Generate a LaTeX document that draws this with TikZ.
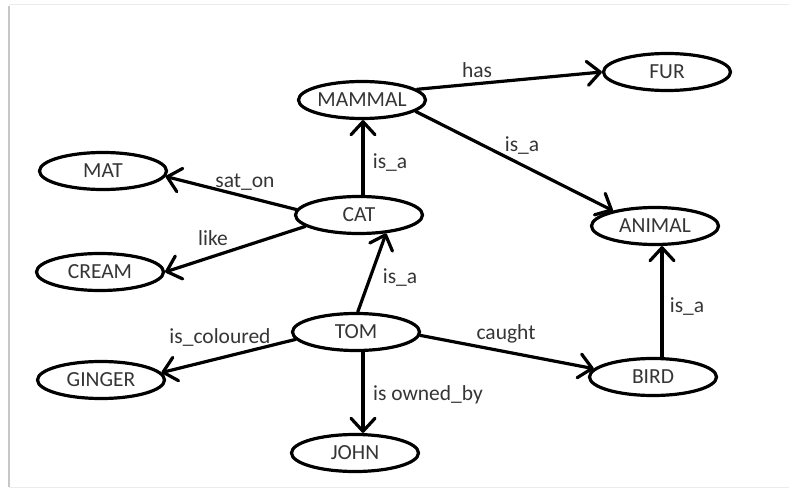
\documentclass[tikz,border=0pt]{standalone}
\usepackage{fontspec}
\setmainfont{Carlito}
\usetikzlibrary{shapes.geometric,arrows.meta}
\definecolor{txt}{HTML}{353535}
\tikzset{
  ent/.style={ellipse, draw=black, line width=3.2pt, minimum width=127pt,
    minimum height=37pt, inner sep=0pt, text=txt, font=\fontsize{21.5}{23}\selectfont},
  rel/.style={draw=black, line width=3.2pt, line cap=round,
    -{Straight Barb[length=13pt,width=24pt,line cap=round,line join=round]}},
  lbl/.style={text=txt, font=\fontsize{21.5}{23}\selectfont, inner sep=0pt},
}
\begin{document}
\begin{tikzpicture}[x=1pt,y=-1pt]
\useasboundingbox (0,0) rectangle (789,489);
% soft frame edges
\draw[line width=2pt, black!22] (9,6) -- (9,487);
\draw[line width=1pt, black!8] (9,5) -- (789,5);
\draw[line width=1pt, black!8] (9,487.5) -- (789,487.5);

% entities
\node[ent] (mammal) at (362,100) {MAMMAL};
\node[ent] (fur)    at (667,72)  {FUR};
\node[ent] (animal) at (655,226) {ANIMAL};
\node[ent] (mat)    at (103,171) {MAT};
\node[ent] (cat)    at (359,215) {CAT};
\node[ent] (cream)  at (100,272) {CREAM};
\node[ent] (tom)    at (356,332) {TOM};
\node[ent] (ginger) at (101,380) {GINGER};
\node[ent] (bird)   at (653,377) {BIRD};
\node[ent] (john)   at (355,453) {JOHN};

% relations
\draw[rel] (mammal.11) -- (fur.west);
\draw[rel] (mammal.-12) -- (animal.160);
\draw[rel] ([xshift=4pt]cat.north) -- ([xshift=1pt]mammal.south);
\draw[rel] (cat.175) -- (mat.-5);
\draw[rel] (cat.192) -- (cream.east);
\draw[rel] (tom.85) -- (cat.-34);
\draw[rel] (tom.187) -- (ginger.7);
\draw[rel] ([xshift=7pt]tom.south) -- ([xshift=8pt]john.north);
\draw[rel] (tom.-3) -- (bird.172);
\draw[rel] ([xshift=9pt]bird.north) -- ([xshift=7pt]animal.south);

% relation labels
\node[lbl] (l1)  at (477,70)  {has};
\node[lbl] (l2)  at (522,146) {is\_a};
\node[lbl] (l3)  at (390,163) {is\_a};
\node[lbl] (l4)  at (245,182) {sat\_on};
\node[lbl] (l5)  at (213,238) {like};
\node[lbl] (l6)  at (400,278) {is\_a};
\node[lbl] (l7)  at (220,337) {is\_coloured};
\node[lbl] (l8)  at (428,395) {is owned\_by};
\node[lbl] (l9)  at (506,334) {caught};
\node[lbl] (l10) at (687,307) {is\_a};
\end{tikzpicture}
\end{document}
